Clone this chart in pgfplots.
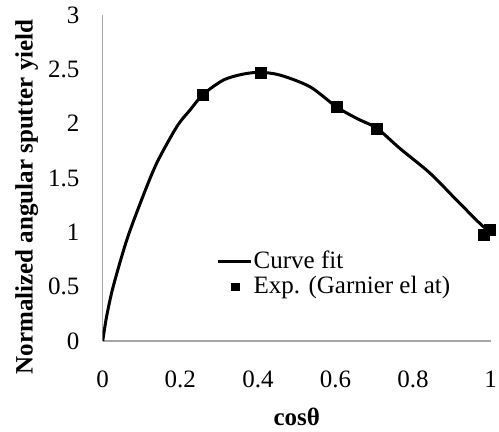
\documentclass[border=0pt]{standalone}
\usepackage{pgfplots}
\pgfplotsset{compat=1.18}
\usepackage{fontspec}
\setmainfont{Liberation Serif}

% Angular sputter yield: fitted curve and measured points
\pgfplotstableread{
x      y
0.000  0.000
0.010  0.224
0.027  0.500
0.062  0.929
0.100  1.297
0.139  1.635
0.191  1.972
0.225  2.125
0.259  2.269
0.311  2.401
0.362  2.456
0.406  2.472
0.457  2.447
0.534  2.340
0.602  2.156
0.655  2.048
0.707  1.956
0.766  1.772
0.844  1.543
0.912  1.297
0.981  1.052
0.998  1.030
}\curvefit

\pgfplotstableread{
x      y
0.259  2.27
0.406  2.47
0.602  2.155
0.707  1.956
0.982  0.98
0.998  1.027
}\garnier

\newcommand{\chartfont}{\fontsize{25bp}{29bp}\selectfont}

\begin{document}
\chartfont
\begin{tikzpicture}
\begin{axis}[
  scale only axis,
  width=388bp, height=326bp,
  xmin=0, xmax=1, ymin=0, ymax=3,
  axis lines=left,
  axis line style={draw=black!35, line width=1.2bp, -},
  major tick length=0pt,
  xtick={0,0.2,0.4,0.6,0.8,1},
  ytick={0,0.5,1,1.5,2,2.5,3},
  /pgf/number format/assume math mode=true,
  tick label style={font=\chartfont},
  xticklabel style={anchor=north, inner sep=0pt, yshift=-30bp},
  yticklabel style={anchor=east, inner sep=0pt, xshift=-23bp},
  xlabel={\textbf{cosθ}},
  xlabel style={at={(axis description cs:0.5,-0.2577)}, anchor=base, font=\chartfont},
  ylabel={\textbf{Normalized angular sputter yield}},
  ylabel style={at={(axis description cs:-0.1804,0.442)}, anchor=base, font=\chartfont},
  legend cell align=left,
  legend style={draw=none, fill=none, inner sep=0pt,
    at={(axis cs:0.2946,0.84)}, anchor=north west,
    font=\chartfont,
    nodes={inner sep=1bp},
    row sep=2bp},
]
\addplot[black, line width=3bp, smooth, tension=0.5,
  legend image code/.code={\draw[black, line width=2.5bp] (0bp,0bp) -- (33bp,0bp);}]
  table[x=x, y=y] {\curvefit};
\addlegendentry{Curve fit}
\addplot[black, only marks, mark=square*, mark size=5.5bp,
  legend image code/.code={\draw[black, fill=black] (12.7bp,-3.8bp) rectangle (20.3bp,3.8bp); \path (0bp,0bp) (33bp,0bp);}]
  table[x=x, y=y] {\garnier};
\addlegendentry{Exp. (Garnier el at)}
\coordinate (O) at (axis cs:0,0);
\end{axis}
\pgfresetboundingbox
\useasboundingbox (O) ++(-102.7bp,-91bp) rectangle ++(499bp,432bp);
\end{tikzpicture}
\end{document}
